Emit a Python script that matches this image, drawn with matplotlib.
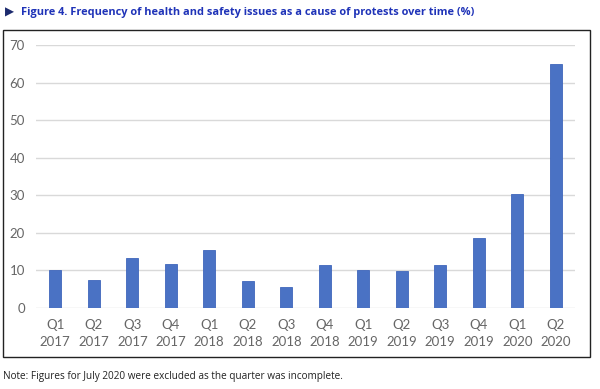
import matplotlib
matplotlib.use("Agg")
from matplotlib import pyplot as plt
from matplotlib.patches import Rectangle

quarters = ["Q1", "Q2", "Q3", "Q4", "Q1", "Q2", "Q3", "Q4",
            "Q1", "Q2", "Q3", "Q4", "Q1", "Q2"]
years = ["2017"] * 4 + ["2018"] * 4 + ["2019"] * 4 + ["2020"] * 2
values = [10.0, 7.4, 13.2, 11.6, 15.4, 7.2, 5.7, 11.5,
          10.2, 9.9, 11.5, 18.6, 30.4, 65.0]
labels = [q + "\n" + y for q, y in zip(quarters, years)]

fig = plt.figure(figsize=(6.0, 3.89), dpi=100)

# outer chart frame
fig.patches.append(Rectangle((3 / 600, 1 - 357 / 389), 587 / 600, 327 / 389,
                             transform=fig.transFigure, fill=False,
                             edgecolor="#222222", linewidth=1.0))

ax = fig.add_axes([36 / 600, 1 - 308 / 389, 539 / 600, 263 / 389])
x = list(range(len(values)))
ax.bar(x, values, width=0.31, color="#4a72c4", edgecolor="#3f66bb",
       linewidth=0.6, zorder=3)

ax.set_xlim(-0.5, len(values) - 0.5)
ax.set_ylim(0, 70)
ax.set_yticks(range(0, 71, 10))
ax.set_xticks(x)
ax.set_xticklabels(labels, linespacing=1.5)
ax.grid(axis="y", color="#d9d9d9", linewidth=1, zorder=0)
for s in ax.spines.values():
    s.set_visible(False)
ax.tick_params(length=0, labelsize=9.5, labelcolor="#666666")
ax.tick_params(axis="y", pad=8)
ax.tick_params(axis="x", pad=8)
for t in ax.get_xticklabels() + ax.get_yticklabels():
    t.set_family("Lato")

fig.text(5 / 600, 1 - 12 / 389, "\u25b6", color="#1c2a6e", fontsize=8.5,
         va="center", ha="left", family="DejaVu Sans")
fig.text(21 / 600, 1 - 12 / 389,
         "Figure 4. Frequency of health and safety issues as a cause of protests over time (%)",
         color="#1f33b8", fontsize=7.9, fontweight="bold", va="center", ha="left",
         family="Open Sans")
fig.text(3 / 600, 1 - 377 / 389,
         "Note: Figures for July 2020 were excluded as the quarter was incomplete.",
         color="#222222", fontsize=7.2, va="center", ha="left", family="Open Sans")

fig.savefig("out.png", dpi=100)
